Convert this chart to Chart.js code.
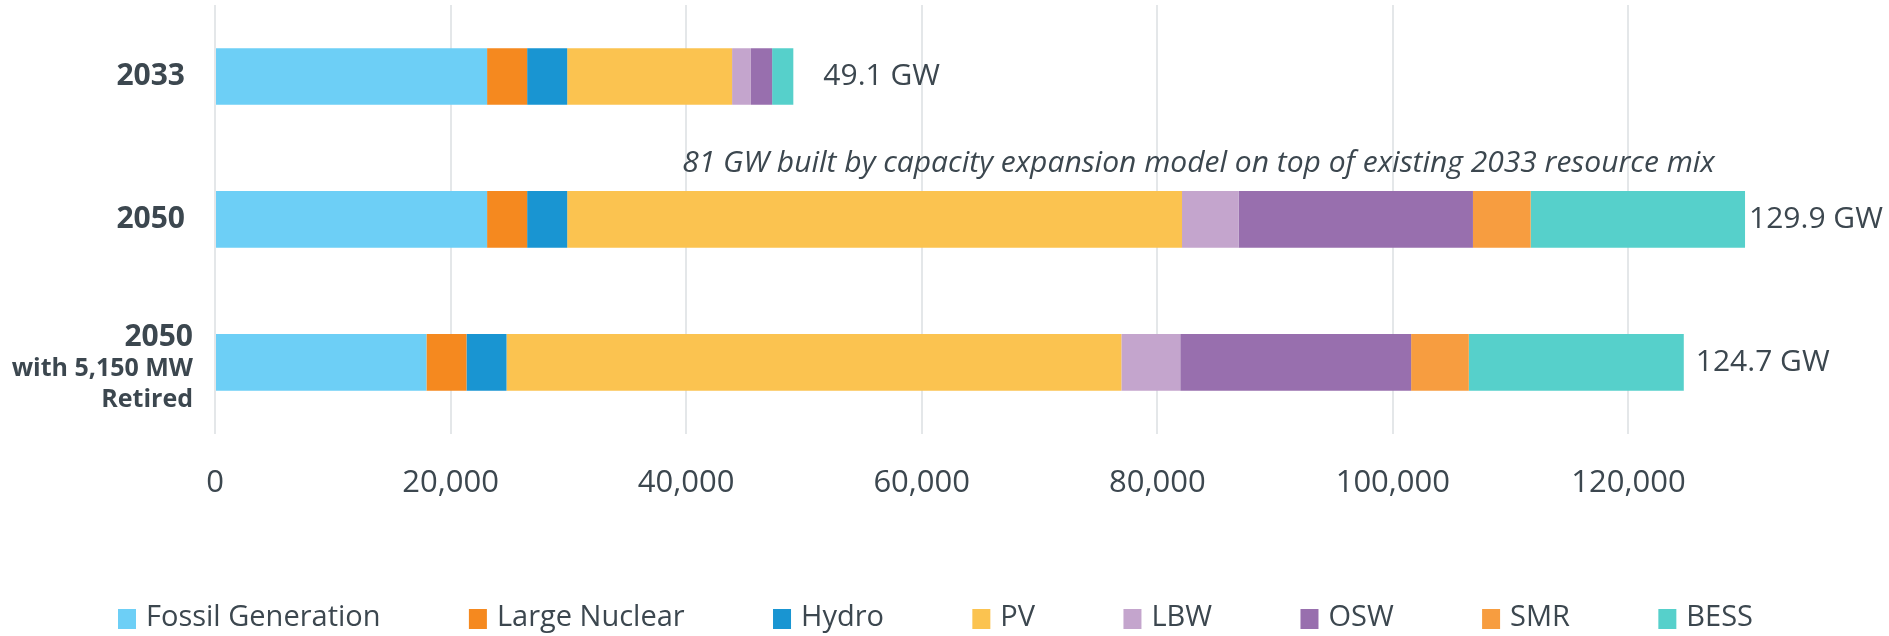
<!DOCTYPE html>
<html>
<head>
<meta charset="utf-8">
<script src="https://cdn.jsdelivr.net/npm/chart.js@4.4.1/dist/chart.umd.min.js"></script>
<style>
  html, body { margin: 0; padding: 0; background: #fff; }
  #wrap { width: 1889px; height: 636px; position: relative; }
</style>
</head>
<body>
<div id="wrap"><canvas id="chart"></canvas></div>
<script>
/* ---- Data ---- */

// y axis categories, one list of text lines per bar
const CATEGORY_LINES = [['2033'], ['2050'], ['2050', 'with 5,150 MW', 'Retired']];

const SERIES_NAMES = ['Fossil Generation', 'Large Nuclear', 'Hydro', 'PV', 'LBW', 'OSW', 'SMR', 'BESS'];

// installed capacity in MW, same order as CATEGORY_LINES
const FOSSIL  = [23100, 23100, 17950];
const NUCLEAR = [3400, 3400, 3400];
const HYDRO   = [3400, 3400, 3400];
const PV      = [14000, 52200, 52200];
const LBW     = [1600, 4800, 5000];
const OSW     = [1800, 19900, 19600];
const SMR     = [0, 4900, 4900];
const BESS    = [1800, 18200, 18250];

const X_TICKS = [0, 20000, 40000, 60000, 80000, 100000, 120000];

const NOTE_TEXT = '81 GW built by capacity expansion model on top of existing 2033 resource mix';

/* ---- Styles ---- */

const COLORS = ['#6dcff6', '#f5891f', '#1995d2', '#fbc350', '#c4a5cd', '#986fae', '#f79d40', '#56d0cb'];
const TEXT = '#3c474f';
const FONT = '"Open Sans", "Noto Sans", sans-serif';

// per category: right edge of the label, offsets and fonts of each line
const LABEL_STYLE = [
  { right: 185, offsets: [0], fonts: ['bold 30px'] },
  { right: 185, offsets: [0], fonts: ['bold 30px'] },
  { right: 193, offsets: [-25, 7, 38], fonts: ['bold 30px', 'bold 25px', 'bold 25px'] }
];
const TOTAL_GAP = [30, 4, 12];

Chart.defaults.font.family = FONT;
Chart.defaults.color = TEXT;

const seriesData = [FOSSIL, NUCLEAR, HYDRO, PV, LBW, OSW, SMR, BESS];

// category labels drawn left of the plot, using the y scale positions
const categoryLabels = {
  id: 'categoryLabels',
  afterDraw(chart) {
    const ctx = chart.ctx;
    const y = chart.scales.y;
    ctx.save();
    ctx.fillStyle = TEXT;
    ctx.textAlign = 'right';
    ctx.textBaseline = 'middle';
    CATEGORY_LINES.forEach((lines, i) => {
      const st = LABEL_STYLE[i];
      const cy = y.getPixelForValue(i);
      lines.forEach((line, j) => {
        ctx.font = st.fonts[j] + ' ' + FONT;
        ctx.fillText(line, st.right, cy + st.offsets[j]);
      });
    });
    ctx.restore();
  }
};

// "xx.x GW" at the end of each bar
const totalLabels = {
  id: 'totalLabels',
  afterDatasetsDraw(chart) {
    const ctx = chart.ctx;
    const x = chart.scales.x, y = chart.scales.y;
    ctx.save();
    ctx.fillStyle = TEXT;
    ctx.font = '30px ' + FONT;
    ctx.textAlign = 'left';
    ctx.textBaseline = 'middle';
    CATEGORY_LINES.forEach((_, i) => {
      const total = seriesData.reduce((s, d) => s + d[i], 0);
      ctx.fillText((total / 1000).toFixed(1) + ' GW', x.getPixelForValue(total) + TOTAL_GAP[i], y.getPixelForValue(i));
    });
    // italic note between the first two bars
    ctx.font = 'italic 30px ' + FONT;
    ctx.textAlign = 'center';
    ctx.fillText(NOTE_TEXT, x.getPixelForValue(83500), y.getPixelForValue(0.61));
    ctx.restore();
  }
};

// legend row along the bottom
const bottomLegend = {
  id: 'bottomLegend',
  afterDraw(chart) {
    const ctx = chart.ctx;
    const span = 1635, left = 118, cy = 618, boxW = 18, boxH = 20, gapText = 10;
    ctx.save();
    ctx.font = '29px ' + FONT;
    ctx.textBaseline = 'middle';
    ctx.textAlign = 'left';
    const items = chart.data.datasets.map(ds => ({
      label: ds.label, color: ds.backgroundColor,
      w: boxW + gapText + ctx.measureText(ds.label).width
    }));
    const used = items.reduce((s, it) => s + it.w, 0);
    const gap = (span - used) / (items.length - 1);
    let px = left;
    items.forEach(it => {
      ctx.fillStyle = it.color;
      ctx.fillRect(px, cy - boxH / 2 + 1, boxW, boxH);
      ctx.fillStyle = TEXT;
      ctx.fillText(it.label, px + boxW + gapText, cy);
      px += it.w + gap;
    });
    ctx.restore();
  }
};

new Chart(document.getElementById('chart'), {
  type: 'bar',
  data: {
    labels: CATEGORY_LINES.map(l => l.join(' ')),
    datasets: SERIES_NAMES.map((name, i) => ({
      label: name,
      data: seriesData[i],
      backgroundColor: COLORS[i],
      borderWidth: 0,
      barPercentage: 0.396,
      categoryPercentage: 1
    }))
  },
  options: {
    indexAxis: 'y',
    responsive: true,
    maintainAspectRatio: false,
    animation: false,
    layout: { padding: { left: 215, right: 25, top: 5, bottom: 103 } },
    plugins: {
      legend: { display: false },
      tooltip: { enabled: false }
    },
    scales: {
      x: {
        stacked: true,
        min: 0,
        max: 140000,
        afterBuildTicks: scale => { scale.ticks = X_TICKS.map(v => ({ value: v })); },
        ticks: {
          font: { size: 31 },
          color: TEXT,
          padding: 31,
          maxRotation: 0,
          callback: v => v.toLocaleString('en-US')
        },
        grid: { color: '#e4e7e9', lineWidth: 2, drawTicks: false },
        border: { display: false }
      },
      y: {
        stacked: true,
        display: false
      }
    }
  },
  plugins: [categoryLabels, totalLabels, bottomLegend]
});
</script>
</body>
</html>
